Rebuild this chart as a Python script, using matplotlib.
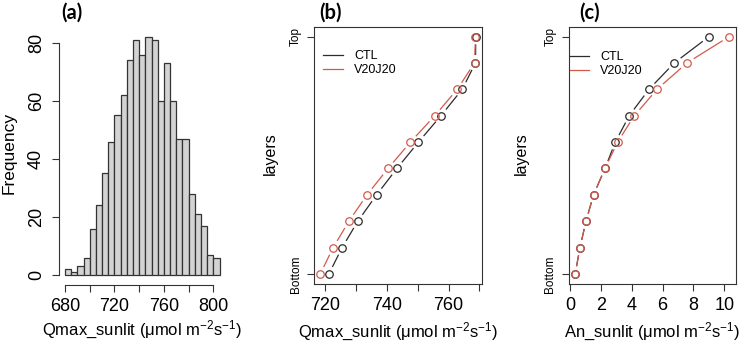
import numpy as np
import matplotlib
matplotlib.use("Agg")
import matplotlib.pyplot as plt

plt.rcParams['font.family'] = ['Liberation Sans', 'DejaVu Sans']
plt.rcParams['mathtext.default'] = 'regular'

# (a) histogram of Qmax_sunlit, bins of width 5 starting at 680
bin_edges = np.arange(680, 806, 5)
counts = [2, 1, 3, 6, 16, 24, 35, 46, 55, 62, 74, 81, 76, 82, 81,
          60, 73, 60, 47, 47, 28, 21, 17, 7, 6]

# (b)/(c) canopy layers, bottom to top
layers = np.arange(1, 11)
qmax_ctl = [721.1, 725.4, 730.5, 736.6, 743.2, 750.2, 757.5, 764.4, 768.7, 768.8]
qmax_v20 = [718.3, 722.5, 727.6, 733.5, 740.3, 747.6, 755.5, 762.8, 768.4, 768.7]
an_ctl = [0.34, 0.65, 1.04, 1.53, 2.27, 2.94, 3.84, 5.12, 6.76, 9.01]
an_v20 = [0.34, 0.65, 1.04, 1.53, 2.27, 3.09, 4.17, 5.64, 7.58, 10.32]

c_ctl = '#2b2b2b'
c_v20 = '#d25a4a'
unit = ' (\u03bcmol m$^{-2}$s$^{-1}$)'

W, H = 739, 342
fig = plt.figure(figsize=(W / 100, H / 100), dpi=100)


def box(l, r, t, b):
    return [l / W, 1 - b / H, (r - l) / W, (b - t) / H]


def rlim(vals):
    lo, hi = min(vals), max(vals)
    d = 0.04 * (hi - lo)
    return lo - d, hi + d


def gapped_line(ax, x, y, color, gap=8.5):
    # like R type="b": segments stop short of the points
    pts = ax.transData.transform(np.column_stack([x, y]))
    inv = ax.transData.inverted()
    for p0, p1 in zip(pts[:-1], pts[1:]):
        d = p1 - p0
        L = np.hypot(d[0], d[1])
        if L <= 2 * gap + 1:
            continue
        u = d / L
        a = inv.transform(p0 + u * gap)
        b = inv.transform(p1 - u * gap)
        ax.plot([a[0], b[0]], [a[1], b[1]], color=color, lw=0.9)


tick_kw = dict(length=5, width=0.8, color='#333333', labelsize=13)

# ---- (a)
ax1 = fig.add_axes(box(58.8, 225.7, 27.6, 284.5))
ax1.bar(bin_edges[:-1], counts, width=5, align='edge', color='#d3d3d3',
        edgecolor='#333333', linewidth=0.9)
ax1.set_xlim(rlim(list(bin_edges)))
ax1.set_ylim(rlim([0] + counts))
for s in ['top', 'right']:
    ax1.spines[s].set_visible(False)
for s in ['left', 'bottom']:
    ax1.spines[s].set_linewidth(0.8)
    ax1.spines[s].set_color('#333333')
ax1.spines['bottom'].set_bounds(680, 800)
ax1.spines['left'].set_bounds(0, 80)
ax1.set_xticks(np.arange(680, 801, 20))
ax1.set_xticklabels(['680', '', '720', '', '760', '', '800'])
ax1.set_yticks(np.arange(0, 81, 20))
ax1.tick_params(**tick_kw)
ax1.tick_params(axis='x', pad=5)
ax1.tick_params(axis='y', pad=5)
for t in ax1.get_yticklabels():
    t.set_rotation(90)
    t.set_va('center')

# ---- (b) and (c)
panels = [
    (box(314, 482, 27, 283.5), qmax_ctl, qmax_v20),
    (box(569, 735.5, 27, 283.5), an_ctl, an_v20),
]
axes = []
for rect, ctl, v20 in panels:
    ax = fig.add_axes(rect)
    ax.set_xlim(rlim(ctl + v20))
    ax.set_ylim(rlim(list(layers)))
    for s in ax.spines.values():
        s.set_linewidth(0.8)
        s.set_color('#333333')
    ax.set_yticks([1, 10])
    ax.set_yticklabels(['Bottom', 'Top'], rotation=90, va='center', fontsize=8.5)
    ax.tick_params(**tick_kw)
    ax.tick_params(axis='y', labelsize=8.5, pad=4)
    ax.tick_params(axis='x', pad=5)
    gapped_line(ax, ctl, layers, c_ctl)
    gapped_line(ax, v20, layers, c_v20)
    ax.plot(ctl, layers, 'o', ms=5.4, mfc='none', mec=c_ctl, mew=0.9)
    ax.plot(v20, layers, 'o', ms=5.4, mfc='none', mec=c_v20, mew=0.9)
    axes.append(ax)

ax2, ax3 = axes
ax2.set_xticks(np.arange(720, 771, 10))
ax2.set_xticklabels(['720', '', '740', '', '760', ''])
ax3.set_xticks(np.arange(0, 11, 2))

leg_kw = dict(frameon=False, fontsize=9, borderpad=0, borderaxespad=0,
              labelspacing=0.15, loc='upper left')
h = [plt.Line2D([], [], color=c_ctl, lw=0.9), plt.Line2D([], [], color=c_v20, lw=0.9)]
ax2.legend(h, ['CTL', 'V20J20'], bbox_to_anchor=(0.054, 0.91),
           handlelength=1.6, handletextpad=0.9, **leg_kw)
ax3.legend(h, ['CTL', 'V20J20'], bbox_to_anchor=(0.006, 0.905),
           handlelength=1.5, handletextpad=0.9, **leg_kw)

# axis labels and panel letters
fig.text(142 / W, 1 - 330 / H, 'Qmax_sunlit' + unit, ha='center', va='center', fontsize=12)
fig.text(398 / W, 1 - 331.5 / H, 'Qmax_sunlit' + unit, ha='center', va='center', fontsize=12)
fig.text(652 / W, 1 - 331.5 / H, 'An_sunlit' + unit, ha='center', va='center', fontsize=12)
fig.text(9 / W, 1 - 153 / H, 'Frequency', rotation=90, ha='center', va='center', fontsize=12.5)
fig.text(270 / W, 1 - 154 / H, 'layers', rotation=90, ha='center', va='center', fontsize=11.5)
fig.text(521 / W, 1 - 154 / H, 'layers', rotation=90, ha='center', va='center', fontsize=11.5)
for x, s in [(72, '(a)'), (330, '(b)'), (590, '(c)')]:
    fig.text(x / W, 1 - 13 / H, s, ha='center', va='center', fontsize=14.5,
             fontweight='bold', family=['Lato', 'DejaVu Sans'])

fig.savefig('out.png', dpi=100)
